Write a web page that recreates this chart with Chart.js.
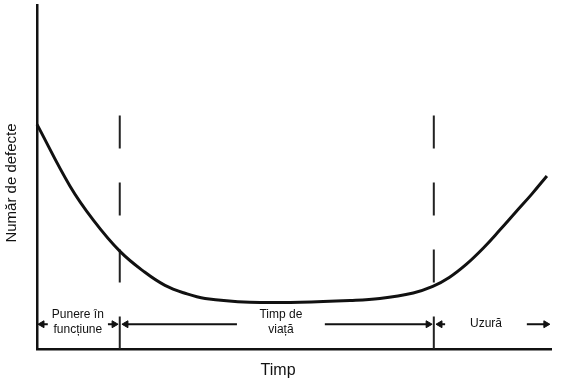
<!DOCTYPE html>
<html>
<head>
<meta charset="utf-8">
<script src="https://cdn.jsdelivr.net/npm/chart.js@4"></script>
<style>
  body { margin: 0; background: #fff; }
  canvas { display: block; }
</style>
</head>
<body>
<canvas id="myChart" width="571" height="381"></canvas>
<script>
// bathtub curve (x: 0-100 time, y: 0-100 defects)
const curveX = [0, 6.4, 11.0, 16.2, 21.0, 24.9, 28.8, 32.7, 41.4, 51.2, 60.9, 66.7, 73.2, 77.0, 80.2, 83.5, 86.8, 90.0, 93.2, 96.3, 99.2];
const curveY = [65.3, 47.4, 37.4, 28.3, 22.3, 18.5, 16.2, 14.7, 13.6, 13.6, 14.1, 14.7, 16.3, 18.2, 20.8, 24.6, 29.3, 34.5, 39.9, 45.1, 50.3];

// phase boundaries (dashed lines) and their top
const phaseBounds = [16.1, 77.2];
const boundTop = 67.9;

// phase labels and the arrows around them
const phaseLabels = [['Punere în', 'funcțiune'], ['Timp de', 'viață'], ['Uzură']];
const arrowFrom = [2.1, 13.8, 38.9, 56.0, 79.4, 95.3];
const arrowTo = [0.97, 15.0, 17.3, 76.1, 78.4, 99.0];
const arrowLevel = 7.2;

const ink = '#111';
const font = "'Liberation Sans', Arial, sans-serif";

const datasets = [];

datasets.push({
  data: curveX.map((x, i) => ({ x: x, y: curveY[i] })),
  showLine: true,
  borderColor: ink,
  borderWidth: 3,
  pointRadius: 0,
  tension: 0.4
});

phaseBounds.forEach(b => {
  datasets.push({
    data: [{ x: b, y: boundTop }, { x: b, y: 0 }],
    showLine: true,
    borderColor: '#222',
    borderWidth: 2,
    borderDash: [33, 34],
    pointRadius: 0
  });
});

arrowFrom.forEach((f, i) => {
  const t = arrowTo[i];
  datasets.push({
    data: [{ x: f, y: arrowLevel }, { x: t, y: arrowLevel }],
    showLine: true,
    borderColor: ink,
    borderWidth: 2,
    backgroundColor: ink,
    pointStyle: 'triangle',
    pointRadius: [0, 4],
    pointBorderWidth: 1,
    pointRotation: [0, t < f ? 270 : 90]
  });
});

// texts: phase labels centred in the arrow gaps, axis titles
const textPlugin = {
  id: 'texts',
  afterDatasetsDraw(chart) {
    const ctx = chart.ctx;
    const xs = chart.scales.x, ys = chart.scales.y;
    const area = chart.chartArea;
    ctx.save();
    ctx.fillStyle = ink;
    ctx.textAlign = 'center';
    ctx.textBaseline = 'middle';

    ctx.font = '12px ' + font;
    const yArrow = ys.getPixelForValue(arrowLevel);
    phaseLabels.forEach((lines, p) => {
      const a = p * 2, b = p * 2 + 1;
      const gapL = Math.max(arrowFrom[a], arrowTo[a]);
      const gapR = Math.min(arrowFrom[b], arrowTo[b]);
      const cx = xs.getPixelForValue((gapL + gapR) / 2);
      if (lines.length === 1) {
        ctx.fillText(lines[0], cx, yArrow - 1);
      } else {
        ctx.fillText(lines[0], cx, yArrow - 10);
        ctx.fillText(lines[1], cx, yArrow + 5);
      }
    });

    ctx.font = '16px ' + font;
    ctx.fillText('Timp', xs.getPixelForValue(46.9), area.bottom + 22);

    ctx.font = '15px ' + font;
    ctx.translate(12, (area.top + area.bottom) / 2 + 6);
    ctx.rotate(-Math.PI / 2);
    ctx.fillText('Număr de defecte', 0, 0);
    ctx.restore();
  }
};

const config = {
  type: 'scatter',
  data: { datasets: datasets },
  options: {
    responsive: false,
    animation: false,
    clip: false,
    layout: { padding: { left: 37, top: 3, right: 20, bottom: 32 } },
    plugins: { legend: { display: false }, tooltip: { enabled: false } },
    scales: {
      x: {
        type: 'linear', min: 0, max: 100,
        ticks: { display: false },
        grid: { display: false, drawTicks: false },
        border: { display: true, color: ink, width: 2.5 }
      },
      y: {
        type: 'linear', min: 0, max: 100,
        ticks: { display: false },
        grid: { display: false, drawTicks: false },
        border: { display: true, color: ink, width: 2.5 }
      }
    }
  },
  plugins: [textPlugin]
};

const myChart = new Chart(document.getElementById('myChart'), config);
</script>
</body>
</html>
